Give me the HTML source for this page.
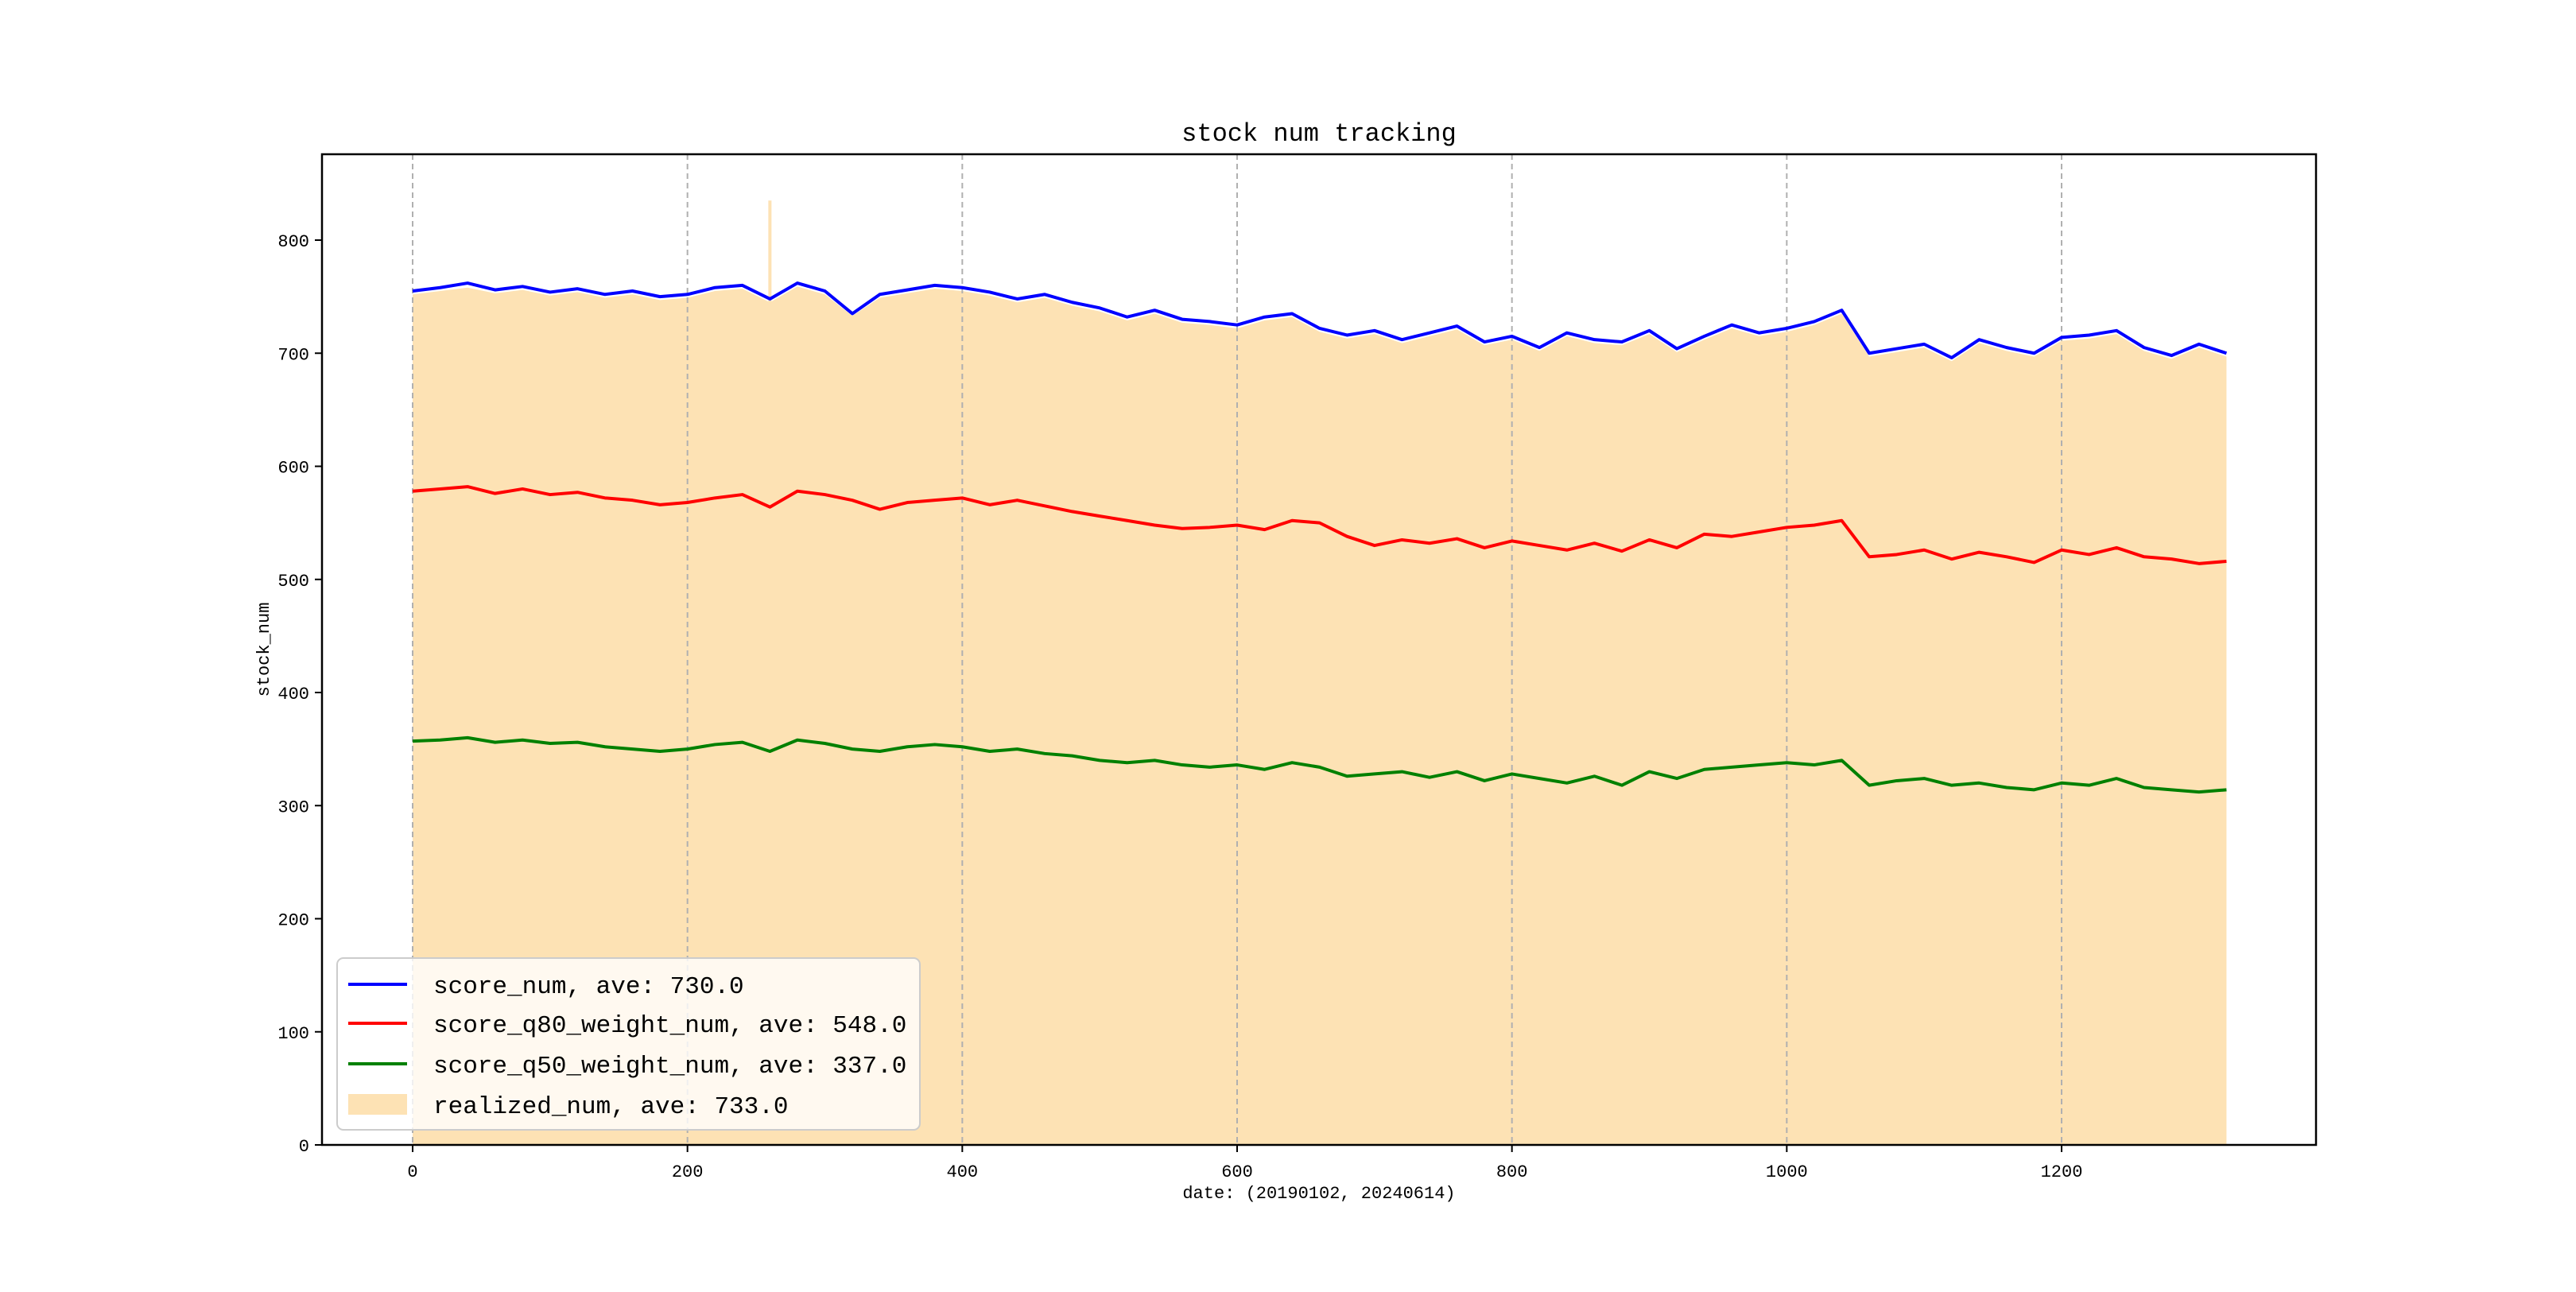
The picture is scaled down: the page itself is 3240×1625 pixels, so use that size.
<!DOCTYPE html>
<html><head><meta charset="utf-8"><style>
body{margin:0;background:#fff;}
svg text{font-family:"Liberation Mono","Noto Sans CJK SC",monospace;}
</style></head><body>
<svg id="chart" width="3240" height="1620" xmlns="http://www.w3.org/2000/svg">
<rect width="3240" height="1620" fill="#fff"/>
<g id="plot"></g>
</svg>
<script>
const xTicks=[0,200,400,600,800,1000,1200];
const yTicks=[0,100,200,300,400,500,600,700,800];
const step=20;
const scoreNum=[755,758,762,756,759,754,757,752,755,750,752,758,760,748,762,755,735,752,756,760,758,754,748,752,745,740,732,738,730,728,725,732,735,722,716,720,712,718,724,710,715,705,718,712,710,720,704,715,725,718,722,728,738,700,704,708,696,712,705,700,714,716,720,705,698,708,700];
const q80Num=[578,580,582,576,580,575,577,572,570,566,568,572,575,564,578,575,570,562,568,570,572,566,570,565,560,556,552,548,545,546,548,544,552,550,538,530,535,532,536,528,534,530,526,532,525,535,528,540,538,542,546,548,552,520,522,526,518,524,520,515,526,522,528,520,518,514,516];
const q50Num=[357,358,360,356,358,355,356,352,350,348,350,354,356,348,358,355,350,348,352,354,352,348,350,346,344,340,338,340,336,334,336,332,338,334,326,328,330,325,330,322,328,324,320,326,318,330,324,332,334,336,338,336,340,318,322,324,318,320,316,314,320,318,324,316,314,312,314];
const realizedNum=[752,755,758,753,756,751,754,749,752,747,749,755,757,745,759,752,733,749,753,757,755,751,745,749,742,737,729,735,727,725,722,729,732,719,713,717,709,715,721,707,712,702,715,709,707,717,701,712,722,715,719,725,735,697,701,705,693,709,702,697,711,713,717,702,695,705,697];
const spikeX=[260];const spikeY=[835];
const L=405,R=2913,T=194,B=1440;
const xs=v=>519+v*(2593-519)/1200;
const ys=v=>B-v*(B-302)/800;
const NS="http://www.w3.org/2000/svg";
const g=document.getElementById('plot');
function mk(t,a,p){const e=document.createElementNS(NS,t);for(const k in a)e.setAttribute(k,a[k]);(p||g).appendChild(e);return e;}
// fill
let d=`M${xs(0)},${ys(0)}`;realizedNum.forEach((v,i)=>d+=`L${xs(i*step)},${ys(v)}`);d+=`L${xs((realizedNum.length-1)*step)},${ys(0)}Z`;
let f=mk('path',{d:d,fill:'#fde2b4'});


spikeX.forEach((x,i)=>{const s=mk('rect',{x:xs(x)-2,y:ys(spikeY[i]),width:4,height:ys(0)-ys(spikeY[i]),fill:'#fde2b4'});

});
// grid
xTicks.forEach(v=>{const l=mk('line',{x1:xs(v),x2:xs(v),y1:T,y2:B,stroke:'#b0b0b0','stroke-width':2,'stroke-dasharray':'7,5'});

});
function line(arr,col,name){let p='';arr.forEach((v,i)=>p+=(i?'L':'M')+xs(i*step)+','+ys(v));
const e=mk('path',{d:p,fill:'none',stroke:col,'stroke-width':4,'stroke-linejoin':'round'});

}
line(scoreNum,'#0000ff','score-num-line');
line(q80Num,'#ff0000','score-q80-line');
line(q50Num,'#008000','score-q50-line');
// axes box
const ax=mk('rect',{x:L,y:T,width:R-L,height:B-T,fill:'none',stroke:'#000','stroke-width':2.5});


xTicks.forEach(v=>{mk('line',{x1:xs(v),x2:xs(v),y1:B,y2:B+9,stroke:'#000','stroke-width':2});
const t=mk('text',{x:xs(v),y:B+40,'font-size':22,'text-anchor':'middle'});t.textContent=v;

});
yTicks.forEach(v=>{mk('line',{x1:L-9,x2:L,y1:ys(v),y2:ys(v),stroke:'#000','stroke-width':2});
const t=mk('text',{x:L-16,y:ys(v)+8,'font-size':22,'text-anchor':'end'});t.textContent=v;

});
let t=mk('text',{x:1659,y:177,'font-size':32,'text-anchor':'middle'});t.textContent='stock num tracking';


t=mk('text',{x:1659,y:1507,'font-size':22,'text-anchor':'middle'});t.textContent='date: (20190102, 20240614)';


t=mk('text',{x:338,y:817,'font-size':22,'text-anchor':'middle',transform:'rotate(-90 338 817)'});t.textContent='stock_num';


// legend
const lg=mk('g',{});


mk('rect',{x:424,y:1205,width:733,height:216,rx:8,fill:'rgba(255,255,255,0.8)',stroke:'#ccc','stroke-width':2},lg);
const labels=['score_num, ave: 730.0','score_q80_weight_num, ave: 548.0','score_q50_weight_num, ave: 337.0','realized_num, ave: 733.0'];
const cols=['#0000ff','#ff0000','#008000','#fde2b4'];
const ly=[1238,1287,1338,1389];
labels.forEach((s,i)=>{
if(i<3)mk('line',{x1:438,x2:512,y1:ly[i],y2:ly[i],stroke:cols[i],'stroke-width':4},lg);
else mk('rect',{x:438,y:ly[i]-13,width:74,height:26,fill:cols[i]},lg);
const e=mk('text',{x:545,y:ly[i]+11,'font-size':31},lg);e.textContent=s;

});
</script>
</body></html>
